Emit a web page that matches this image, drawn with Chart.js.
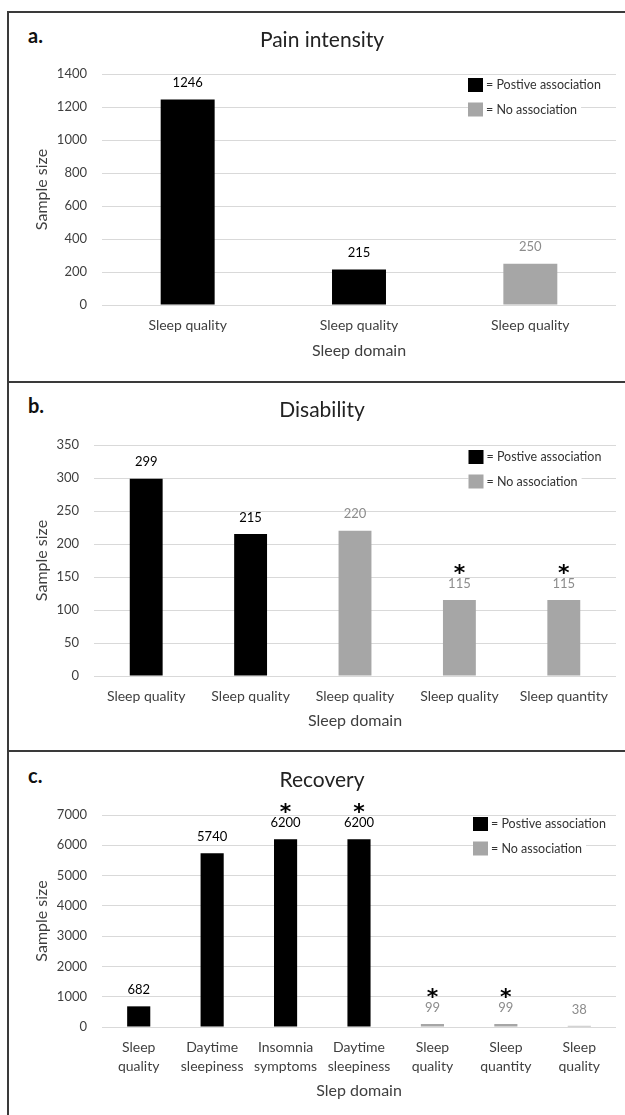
<!DOCTYPE html>
<html lang="en">
<head>
<meta charset="UTF-8">
<meta name="viewport" content="width=device-width, initial-scale=1.0">
<title>Sleep domain and pain outcomes</title>
<script src="https://cdn.jsdelivr.net/npm/chart.js"></script>
<style>
  html, body { margin: 0; padding: 0; background: #fff; overflow: hidden; }
  body { width: 625px; height: 1115px; position: relative; font-family: Lato, sans-serif; }
  #frame { position: absolute; left: 7px; top: 11px; width: 700px; height: 1200px; border: 2px solid #3a3a3a; box-sizing: border-box; }
  .sep { position: absolute; left: 7px; width: 700px; height: 2px; background: #3a3a3a; }
  .tag { position: absolute; left: 28px; font: bold 20px Lato, sans-serif; line-height: 20px; color: #111; }
  .panel { position: absolute; left: 9px; width: 616px; }
</style>
</head>
<body>
<div id="frame"></div>
<div class="sep" style="top:381px"></div>
<div class="sep" style="top:750px"></div>

<div class="tag" style="top:25px">a.</div>
<div class="tag" style="top:395px">b.</div>
<div class="tag" style="top:765px">c.</div>

<div class="panel" style="top:14px;height:366px"><canvas id="chartA"></canvas></div>
<div class="panel" style="top:384px;height:366px"><canvas id="chartB"></canvas></div>
<div class="panel" style="top:753px;height:362px"><canvas id="chartC"></canvas></div>

<script>
// legend / series
const seriesNames = ['= Postive association', '= No association'];
const barColors = ['#000000', '#a6a6a6'];
const valueColors = ['#000000', '#8c8c8c'];

// a. Pain intensity
const painDomains = ['Sleep quality', 'Sleep quality', 'Sleep quality'];
const painSizes = [1246, 215, 250];
const painPositive = [true, true, false];
const painStar = [false, false, false];
const painTicks = [0, 200, 400, 600, 800, 1000, 1200, 1400];

// b. Disability
const disDomains = ['Sleep quality', 'Sleep quality', 'Sleep quality', 'Sleep quality', 'Sleep quantity'];
const disSizes = [299, 215, 220, 115, 115];
const disPositive = [true, true, false, false, false];
const disStar = [false, false, false, true, true];
const disTicks = [0, 50, 100, 150, 200, 250, 300, 350];

// c. Recovery
const recDomains = [['Sleep', 'quality'], ['Daytime', 'sleepiness'], ['Insomnia', 'symptoms'], ['Daytime', 'sleepiness'],
                    ['Sleep', 'quality'], ['Sleep', 'quantity'], ['Sleep', 'quality']];
const recSizes = [682, 5740, 6200, 6200, 99, 99, 38];
const recPositive = [true, true, true, true, false, false, false];
const recStar = [false, false, true, true, true, true, false];
const recTicks = [0, 1000, 2000, 3000, 4000, 5000, 6000, 7000];

const txt = '#3f3f3f';

function pick(values, positive, want) {
  return values.map((v, i) => positive[i] === want ? v : null);
}

// value labels (and asterisks) above each bar
const barNotes = {
  id: 'barNotes',
  afterDatasetsDraw(chart, args, opts) {
    const ctx = chart.ctx;
    chart.data.datasets.forEach((ds, d) => {
      chart.getDatasetMeta(d).data.forEach((bar, i) => {
        const v = ds.data[i];
        if (v === null) return;
        const cy = bar.y - opts.gap;
        ctx.save();
        ctx.textAlign = 'center';
        ctx.textBaseline = 'middle';
        ctx.font = '13px Lato';
        ctx.fillStyle = valueColors[d];
        ctx.fillText(String(v), bar.x, cy);
        if (opts.stars[i]) {
          ctx.font = 'bold 22px "DejaVu Sans"';
          ctx.fillStyle = '#000';
          ctx.textBaseline = 'alphabetic';
          ctx.fillText('*', bar.x, cy - opts.starGap + 12);
        }
        ctx.restore();
      });
    });
  }
};

// key in the top right of the plot
const keyBox = {
  id: 'keyBox',
  afterDraw(chart, args, opts) {
    const {ctx, chartArea} = chart;
    const x = chartArea.right - opts.inset;
    chart.data.datasets.forEach((ds, k) => {
      const cy = chartArea.top + opts.top + k * 24.5;
      ctx.save();
      ctx.font = '12.5px Lato';
      const w = ctx.measureText(ds.label).width;
      ctx.fillStyle = '#fff';
      ctx.fillRect(x, cy - 8, 15 + 3 + w + 4, 16);
      ctx.fillStyle = ds.backgroundColor;
      ctx.fillRect(x, cy - 7, 15, 14);
      ctx.fillStyle = '#333';
      ctx.textBaseline = 'middle';
      ctx.fillText(ds.label, x + 18, cy);
      ctx.restore();
    });
  }
};

function makePanel(id, p) {
  return new Chart(document.getElementById(id), {
    type: 'bar',
    data: {
      labels: p.labels,
      datasets: [
        { label: seriesNames[0], data: pick(p.values, p.positive, true), backgroundColor: barColors[0] },
        { label: seriesNames[1], data: pick(p.values, p.positive, false), backgroundColor: barColors[1] }
      ]
    },
    options: {
      responsive: true,
      maintainAspectRatio: false,
      animation: false,
      categoryPercentage: 1,
      barPercentage: 0.315,
      layout: { padding: { left: 19, right: 9, top: 0, bottom: p.padBottom } },
      plugins: {
        legend: { display: false },
        tooltip: { enabled: false },
        title: {
          display: true, text: p.title, color: '#222',
          font: { family: 'Lato', size: 21, weight: 'normal' },
          padding: { top: p.titleTop, bottom: p.titleBottom }
        },
        barNotes: { gap: 16.5, starGap: 15.5, stars: p.stars },
        keyBox: { inset: p.keyInset, top: p.keyTop }
      },
      scales: {
        x: {
          stacked: true,
          grid: { display: false, drawTicks: false },
          border: { display: false },
          ticks: { color: txt, font: { family: 'Lato', size: 14, lineHeight: p.catLine }, padding: p.catPad, maxRotation: 0, autoSkip: false },
          title: { display: true, text: p.xTitle, color: txt, font: { family: 'Lato', size: 16 }, padding: { top: 0, bottom: 0 } },
          afterFit: s => { s.height = p.xHeight; }
        },
        y: {
          stacked: true,
          min: p.ticks[0],
          max: p.ticks[p.ticks.length - 1],
          grid: { color: '#d9d9d9', drawTicks: false },
          border: { display: false },
          ticks: { stepSize: p.ticks[1] - p.ticks[0], color: txt, font: { family: 'Lato', size: 13 }, padding: 15, callback: v => String(v) },
          title: { display: true, text: 'Sample size', color: txt, font: { family: 'Lato', size: 16 }, padding: { top: 4.4, bottom: 0 } },
          afterFit: s => { s.width = p.yWidth; }
        }
      }
    },
    plugins: [barNotes, keyBox]
  });
}

makePanel('chartA', {
  labels: painDomains, values: painSizes, positive: painPositive, stars: painStar, ticks: painTicks,
  title: 'Pain intensity', xTitle: 'Sleep domain',
  titleTop: 13.4, titleBottom: 21.4, catPad: 11.6, catLine: 1.2, xHeight: 55.6, padBottom: 19.4,
  yWidth: 74, keyInset: 148, keyTop: 11
});

makePanel('chartB', {
  labels: disDomains, values: disSizes, positive: disPositive, stars: disStar, ticks: disTicks,
  title: 'Disability', xTitle: 'Sleep domain',
  titleTop: 13.4, titleBottom: 22.4, catPad: 11.6, catLine: 1.2, xHeight: 54.6, padBottom: 19.4,
  yWidth: 66, keyInset: 147.5, keyTop: 12
});

makePanel('chartC', {
  labels: recDomains, values: recSizes, positive: recPositive, stars: recStar, ticks: recTicks,
  title: 'Recovery', xTitle: 'Slep domain',
  titleTop: 14.4, titleBottom: 22.4, catPad: 10.5, catLine: 1.357, xHeight: 73.6, padBottom: 14.4,
  yWidth: 74, keyInset: 143, keyTop: 9
});
</script>
</body>
</html>
